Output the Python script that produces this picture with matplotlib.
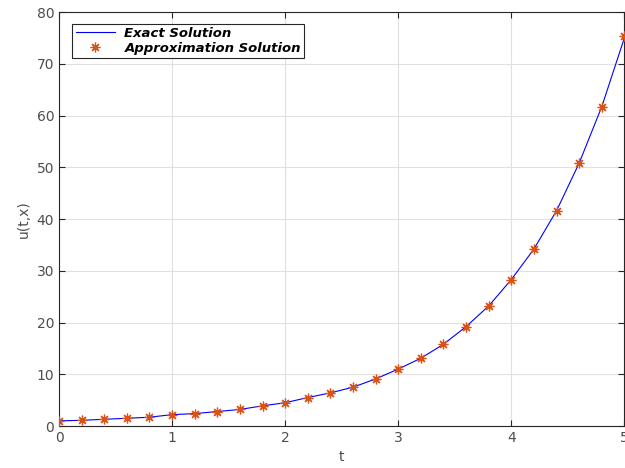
import matplotlib
matplotlib.use("Agg")
import matplotlib.pyplot as plt

t = [0.0, 0.2, 0.4, 0.6, 0.8, 1.0, 1.2, 1.4, 1.6, 1.8, 2.0, 2.2, 2.4,
     2.6, 2.8, 3.0, 3.2, 3.4, 3.6, 3.8, 4.0, 4.2, 4.4, 4.6, 4.8, 5.0]
exact = [1.0, 1.1, 1.3, 1.5, 1.7, 2.2, 2.4, 2.8, 3.2, 3.9, 4.5, 5.5, 6.4,
         7.5, 9.1, 11.0, 13.1, 15.8, 19.2, 23.2, 28.3, 34.2, 41.6, 50.8, 61.7, 75.0]
approx = [1.0, 1.1, 1.3, 1.5, 1.7, 2.2, 2.4, 2.8, 3.2, 3.9, 4.5, 5.5, 6.4,
          7.5, 9.1, 11.0, 13.1, 15.8, 19.2, 23.2, 28.3, 34.2, 41.6, 50.8, 61.7, 75.4]
xticks = [0, 1, 2, 3, 4, 5]
yticks = [0, 10, 20, 30, 40, 50, 60, 70, 80]

fig = plt.figure(figsize=(6.25, 4.68), dpi=100)
ax = fig.add_axes([0.0944, 0.0897, 0.9056 - 0.001, 0.8846])

ax.plot(t, exact, color=(0, 0, 1), lw=0.8, label="Exact Solution", zorder=3)
ax.plot(t, approx, ls="none", marker=(8, 2, 0), color="#D95319", markersize=7,
        markeredgewidth=0.9, label="Approximation Solution", zorder=4)

ax.set_xlim(0, 5)
ax.set_ylim(0, 80)
ax.set_xticks(xticks)
ax.set_yticks(yticks)
ax.grid(True, color="#e0e0e0", lw=0.8)
ax.set_axisbelow(True)
for s in ax.spines.values():
    s.set_color("#262626")
    s.set_linewidth(0.8)
ax.tick_params(direction="in", length=4, width=0.8, colors="#262626",
               labelcolor="#4d4d4d", labelsize=10, top=True, right=True)
ax.set_xlabel("t", color="#4d4d4d", fontsize=10, labelpad=4)
ax.set_ylabel("u(t,x)", color="#4d4d4d", fontsize=10, labelpad=4)

leg = ax.legend(loc="upper left", bbox_to_anchor=(0.012, 0.988), frameon=True,
                fancybox=False, edgecolor="#262626", framealpha=1,
                prop={"weight": "bold", "style": "italic", "size": 9.5},
                handlelength=3.0, borderpad=0.25, labelspacing=0.15,
                handletextpad=0.7)
leg.get_frame().set_linewidth(0.8)

fig.savefig("out.png", dpi=100)
